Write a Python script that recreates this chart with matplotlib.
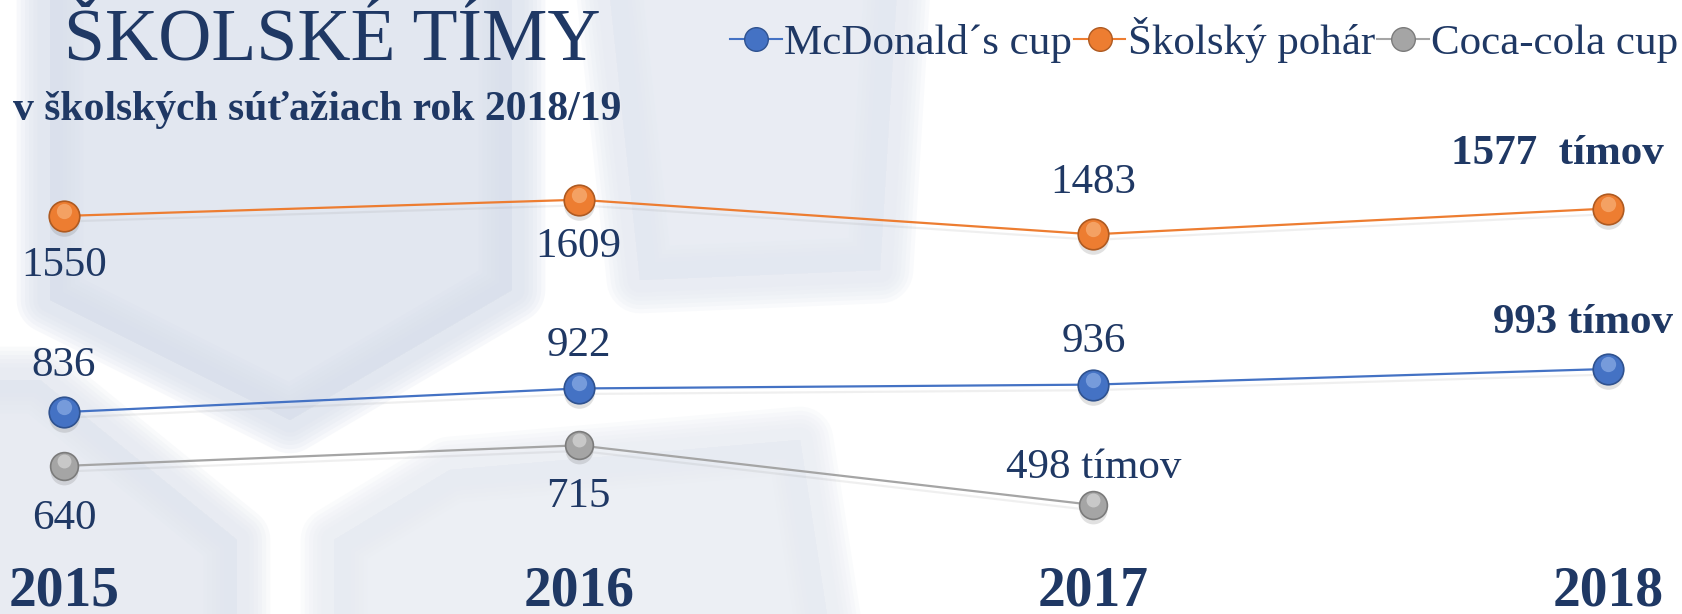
import matplotlib.pyplot as plt
import matplotlib.transforms as mtransforms
import matplotlib.patheffects as pe
from matplotlib.patches import Polygon
from matplotlib.lines import Line2D

# =====================
# DATA
# =====================

years = [2015, 2016, 2017, 2018]
mcdonalds = [836, 922, 936, 993]
skolsky = [1550, 1609, 1483, 1577]
cocacola = [640, 715, 498]          # no 2018 value
coca_years = years[:3]

series_names = ["McDonald\u00b4s cup", "Školský pohár", "Coca-cola cup"]

mcd_labels = ["836", "922", "936", "993 tímov"]
skol_labels = ["1550", "1609", "1483", "1577  tímov"]
coca_labels = ["640", "715", "498 tímov"]

title = "ŠKOLSKÉ TÍMY"
subtitle = "v školských súťažiach rok 2018/19"

NAVY = "#1f3864"
SERIF = "Liberation Serif"

# =====================
# FIGURE + BACKGROUND
# =====================

W, H = 1683, 614
fig = plt.figure(figsize=(W / 100, H / 100), dpi=100)
fig.patch.set_facecolor("white")

bg = fig.add_axes([0, 0, 1, 1], zorder=0)
bg.set_xlim(0, W)
bg.set_ylim(H, 0)
bg.axis("off")

# faint rounded tiles in the background (pixel coords), soft edges
tiles = [
    ([(50, -60), (512, -60), (512, 290), (290, 420), (50, 300)], "#d9e0ec"),
    ([(604, -60), (900, -60), (880, 270), (640, 280)], "#e3e8f1"),
    ([(-60, 380), (40, 380), (237, 540), (237, 700), (-60, 700)], "#e1e6ef"),
    ([(334, 700), (334, 540), (450, 470), (800, 440), (840, 700)], "#e7ebf2"),
]
for pts, c in tiles:
    for lw in (48, 42, 36, 30, 24, 18):
        bg.add_patch(Polygon(pts, closed=True, fc=c, ec=c, lw=lw,
                             joinstyle="round", alpha=0.2))

# =====================
# PLOT
# =====================

ax = fig.add_axes([0, 0, 1, 1], zorder=1)
ax.set_facecolor("none")
ax.axis("off")
ax.set_xlim(2014.8757, 2018.1456)
ax.set_ylim(101, 2336)

styles = [
    (years, mcdonalds, "#4472c4", "#2f528f", "#a9c4f2", 22),
    (years, skolsky, "#ed7d31", "#ae5a21", "#fcc596", 22),
    (coca_years, cocacola, "#a5a5a5", "#7b7b7b", "#ececec", 20),
]

shadow_tr = mtransforms.offset_copy(ax.transData, fig, x=0, y=-5, units="dots")
shine_tr = mtransforms.offset_copy(ax.transData, fig, x=0, y=5, units="dots")

for x, y, c, dark, light, ms in styles:
    ax.plot(x, y, color=c, lw=1.6, zorder=2,
            path_effects=[pe.SimpleLineShadow(offset=(1, -4), shadow_color="#8a8a8a", alpha=0.13),
                          pe.Normal()])
    ax.plot(x, y, "o", ms=ms, color="#777777", alpha=0.22, mec="none",
            transform=shadow_tr, zorder=3)
    ax.plot(x, y, "o", ms=ms, mfc=c, mec=dark, mew=1.2, zorder=4)
    ax.plot(x, y, "o", ms=ms * 0.5, mfc=light, mec="none", alpha=0.5,
            transform=shine_tr, zorder=5)


def label(xv, yv, txt, dy, bold=False, dx=0, ha="center"):
    ax.annotate(txt, (xv, yv), xytext=(dx, dy), textcoords="offset points",
                ha=ha, va="center", fontsize=31, color=NAVY, family=SERIF,
                fontweight="bold" if bold else "normal", zorder=6)


skol_dy = [-36, -34, 37, 39]
for i, (xv, yv, t) in enumerate(zip(years, skolsky, skol_labels)):
    if i == 3:
        label(xv, yv, t, skol_dy[i], bold=True, dx=40, ha="right")
    else:
        label(xv, yv, t, skol_dy[i])

mcd_dy = [33, 31, 31, 33]
for i, (xv, yv, t) in enumerate(zip(years, mcdonalds, mcd_labels)):
    if i == 3:
        label(xv, yv, t, mcd_dy[i], bold=True, dx=47, ha="right")
    else:
        label(xv, yv, t, mcd_dy[i])

coca_dy = [-38, -37, 27]
for xv, yv, t, dy in zip(coca_years, cocacola, coca_labels, coca_dy):
    label(xv, yv, t, dy)

# year labels along the bottom
for yr in years:
    ax.text(yr, 1 - 591 / H, str(yr), transform=ax.get_xaxis_transform(),
            ha="center", va="center", fontsize=40, fontweight="bold",
            color=NAVY, family=SERIF)

# titles
fig.text(64 / W, 1 - 59 / H, title, fontsize=53, color=NAVY, family=SERIF,
         ha="left", va="baseline")
fig.text(13 / W, 1 - 120 / H, subtitle, fontsize=30, fontweight="bold",
         color=NAVY, family=SERIF, ha="left", va="baseline")

# legend
handles = [Line2D([], [], color=c, lw=1.5, marker="o", ms=17, mfc=c, mec=dark, mew=1)
           for _, _, c, dark, _, _ in styles]
leg = fig.legend(handles, series_names, loc="center right",
                 bbox_to_anchor=(1678 / W, 1 - 40 / H), ncol=3, frameon=False,
                 prop={"family": SERIF, "size": 31}, labelcolor=NAVY,
                 handlelength=1.2, handletextpad=0.05, columnspacing=0.05,
                 borderpad=0, borderaxespad=0)

fig.savefig("out.png", dpi=100)
